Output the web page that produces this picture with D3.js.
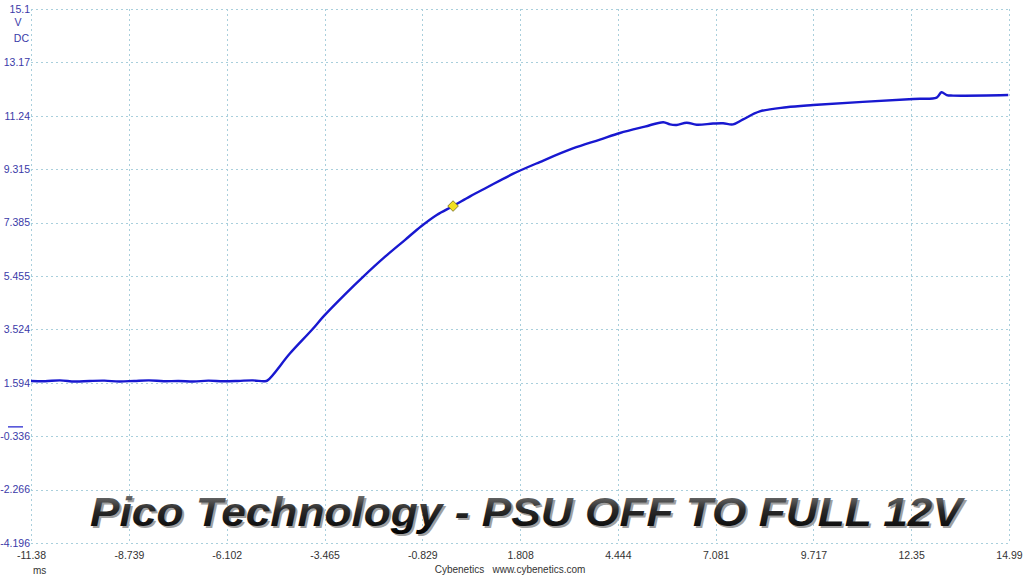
<!DOCTYPE html>
<html>
<head>
<meta charset='utf-8' />
<title>Pico Technology - PSU OFF TO FULL 12V</title>
<style>
  body { margin: 0; background: #fff; }
</style>
</head>
<body>
<div id="chart"></div>
<script src='https://d3js.org/d3.v7.min.js' charset='utf-8'></script>
<script>
  // tick labels as shown by the scope
  const xTicks = ['-11.38', '-8.739', '-6.102', '-3.465', '-0.829', '1.808', '4.444', '7.081', '9.717', '12.35', '14.99']
  const yTicks = ['15.1', '13.17', '11.24', '9.315', '7.385', '5.455', '3.524', '1.594', '-0.336', '-2.266', '-4.196']

  // trace (ms, V)
  const timeMs = [-11.38, -11.0, -10.6, -10.2, -9.8, -9.4, -9.0, -8.6, -8.2, -7.8, -7.4, -7.0,
    -6.6, -6.2, -5.8, -5.4, -5.1, -5.01,
    -4.40, -3.81, -3.48, -2.92, -2.42, -1.84, -1.30, -0.85, -0.44, 0.00, 0.46, 0.91,
    1.61, 2.34, 3.23, 3.96, 4.50, 5.17, 5.67,
    5.85, 6.03, 6.30, 6.57, 7.01, 7.28, 7.55, 7.82, 8.27, 8.99, 9.71,
    12.41, 13.04, 13.17, 13.31, 13.48, 14.97]
  const volts = [1.66, 1.65, 1.68, 1.64, 1.66, 1.67, 1.64, 1.66, 1.68, 1.65, 1.66, 1.64,
    1.67, 1.65, 1.66, 1.68, 1.65, 1.67,
    2.65, 3.50, 4.01, 4.78, 5.43, 6.14, 6.75, 7.26, 7.66, 7.98, 8.33, 8.65,
    9.14, 9.57, 10.06, 10.38, 10.62, 10.85, 11.01,
    10.93, 10.91, 10.99, 10.92, 10.96, 10.97, 10.93, 11.11, 11.40, 11.55, 11.63,
    11.85, 11.90, 12.09, 11.99, 11.97, 11.99]

  const marker = { t: 0.0, v: 7.98 }

  const width = 1024
  const height = 576
  const plot = { left: 31, right: 1009, top: 9, bottom: 543 }
  const labelFont = "'Liberation Sans', Arial, sans-serif"

  const svg = d3.select('#chart')
    .append('svg')
      .attr('width', width)
      .attr('height', height)

  const x = d3.scaleLinear()
    .domain([+xTicks[0], +xTicks[xTicks.length - 1]])
    .range([plot.left, plot.right])

  const y = d3.scaleLinear()
    .domain([+yTicks[yTicks.length - 1], +yTicks[0]])
    .range([plot.bottom, plot.top])

  // dotted grid
  const grid = svg.append('g')
    .attr('stroke', '#a9cfdc')
    .attr('stroke-width', 1)
    .attr('stroke-dasharray', '2,3')

  grid.selectAll('.vg')
    .data(xTicks)
    .enter().append('line')
      .attr('x1', d => Math.round(x(+d)) + 0.5)
      .attr('x2', d => Math.round(x(+d)) + 0.5)
      .attr('y1', plot.top)
      .attr('y2', plot.bottom)

  grid.selectAll('.hg')
    .data(yTicks)
    .enter().append('line')
      .attr('x1', plot.left)
      .attr('x2', plot.right)
      .attr('y1', d => Math.round(y(+d)) + 0.5)
      .attr('y2', d => Math.round(y(+d)) + 0.5)

  // axes (labels only, like the scope)
  const yAxis = d3.axisLeft(y)
    .tickValues(yTicks.map(Number))
    .tickFormat((d, i) => yTicks[i])
    .tickSize(0)
    .tickPadding(1)

  svg.append('g')
    .attr('transform', `translate(${plot.left},0)`)
    .call(yAxis)
    .call(g => g.select('.domain').remove())
    .selectAll('text')
      .attr('fill', '#3a3aa8')
      .attr('font-size', 10.5)
      .attr('font-family', labelFont)

  const xAxis = d3.axisBottom(x)
    .tickValues(xTicks.map(Number))
    .tickFormat((d, i) => xTicks[i])
    .tickSize(0)
    .tickPadding(9)

  svg.append('g')
    .attr('transform', `translate(0,${plot.bottom})`)
    .call(xAxis)
    .call(g => g.select('.domain').remove())
    .selectAll('text')
      .attr('fill', '#333')
      .attr('font-size', 10.5)
      .attr('font-family', labelFont)

  // units
  svg.append('text').attr('x', 18).attr('y', 26)
    .attr('text-anchor', 'middle').attr('font-size', 10.5).attr('font-family', labelFont)
    .attr('fill', '#3a3aa8').text('V')
  svg.append('text').attr('x', 29).attr('y', 42)
    .attr('text-anchor', 'end').attr('font-size', 10.5).attr('font-family', labelFont)
    .attr('fill', '#3a3aa8').text('DC')
  svg.append('text').attr('x', 33).attr('y', 574)
    .attr('font-size', 10).attr('font-family', labelFont).attr('fill', '#333').text('ms')
  svg.append('text').attr('x', 510).attr('y', 573)
    .attr('text-anchor', 'middle').attr('font-size', 10).attr('font-family', labelFont)
    .attr('fill', '#333')
    .attr('xml:space', 'preserve')
    .text('Cybenetics   www.cybenetics.com')

  // zero-level marker on the left
  svg.append('line')
    .attr('x1', 8).attr('x2', 23)
    .attr('y1', y(0)).attr('y2', y(0))
    .attr('stroke', '#1a1acc').attr('stroke-width', 1.2)

  // trace
  const points = timeMs.map((t, i) => ({ t: t, v: volts[i] }))

  const line = d3.line()
    .x(d => x(d.t))
    .y(d => y(d.v))
    .curve(d3.curveCatmullRom.alpha(0.5))

  svg.append('path')
    .datum(points)
    .attr('fill', 'none')
    .attr('stroke', '#1818d0')
    .attr('stroke-width', 2.4)
    .attr('stroke-linejoin', 'round')
    .attr('d', line)

  // yellow diamond marker
  svg.append('path')
    .attr('d', d3.symbol().type(d3.symbolSquare).size(56))
    .attr('transform', `translate(${x(marker.t)},${y(marker.v)}) rotate(45)`)
    .attr('fill', '#f2e020')
    .attr('stroke', '#7a7020')
    .attr('stroke-width', 0.8)

  // title overlay
  const defs = svg.append('defs')
  const grad = defs.append('linearGradient')
    .attr('id', 'titleFill')
    .attr('x1', 0).attr('y1', 0).attr('x2', 0).attr('y2', 1)
  grad.append('stop').attr('offset', '0%').attr('stop-color', '#8a8a8a')
  grad.append('stop').attr('offset', '45%').attr('stop-color', '#2a2a2a')
  grad.append('stop').attr('offset', '100%').attr('stop-color', '#000')

  const title = 'Pico Technology - PSU OFF TO FULL 12V'
  const titleFont = "'Liberation Sans', Arial, sans-serif"
  svg.append('text')
    .attr('x', 92).attr('y', 528)
    .attr('font-family', titleFont)
    .attr('font-size', 41).attr('font-weight', 'bold').attr('font-style', 'italic')
    .attr('textLength', 872).attr('lengthAdjust', 'spacingAndGlyphs')
    .attr('fill', '#a0a0a0')
    .text(title)
  svg.append('text')
    .attr('x', 90).attr('y', 526)
    .attr('font-family', titleFont)
    .attr('font-size', 41).attr('font-weight', 'bold').attr('font-style', 'italic')
    .attr('textLength', 872).attr('lengthAdjust', 'spacingAndGlyphs')
    .attr('fill', 'url(#titleFill)')
    .text(title)
</script>
</body>
</html>
